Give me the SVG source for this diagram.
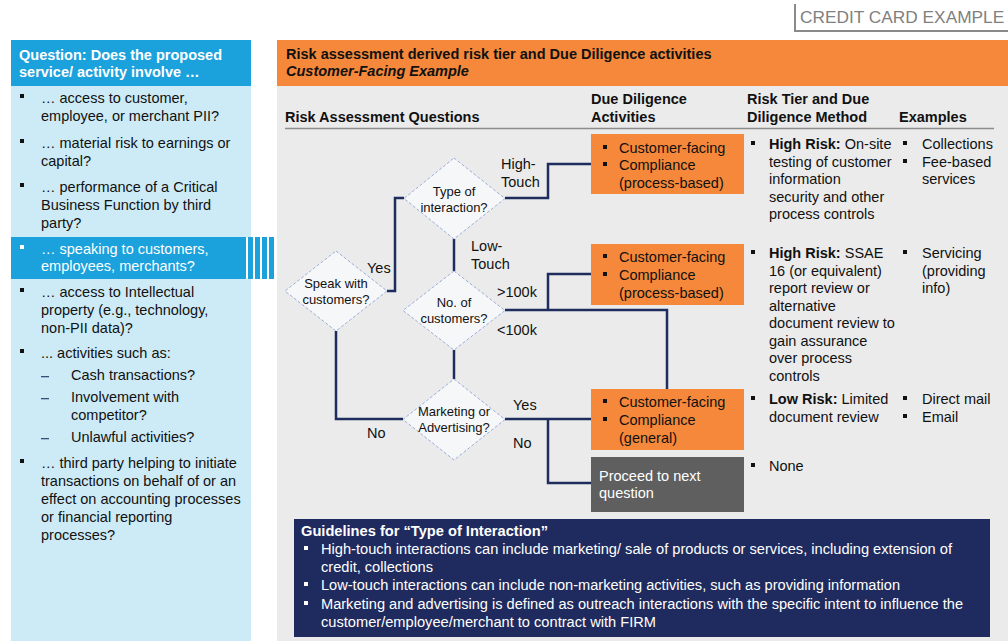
<svg xmlns="http://www.w3.org/2000/svg" width="1008" height="641" viewBox="0 0 1008 641">
<style>
text{font-family:"Liberation Sans",Arial,sans-serif;font-size:14.5px;fill:#111}
.lp{font-size:14.5px}
.b{font-weight:bold}
.w{fill:#fff}
.dia{fill:#f6f7f9;stroke:#9aaedc;stroke-width:1;stroke-dasharray:3 2}
.dt{font-size:13px;text-anchor:middle}
.con{fill:none;stroke:#1f2d5e;stroke-width:2.5}
.org{fill:#f5883a}
.g{font-size:14px;fill:#fff}
</style>
<defs>
<rect id="sq" width="4" height="4" fill="#111"/>
<rect id="sqw" width="4" height="4" fill="#fff"/>
</defs>
<rect width="1008" height="641" fill="#fff"/>
<!-- credit card example -->
<g id="tag">
<path d="M795 4V31H1008" fill="none" stroke="#8a8a8a" stroke-width="2"/>
<text x="800" y="23" style="font-size:17.3px;fill:#808080">CREDIT CARD EXAMPLE</text>
</g>
<!-- left panel -->
<g id="left-panel">
<rect x="11" y="40" width="240" height="601" fill="#cdebf7"/>
<rect x="11" y="40" width="240" height="46" fill="#1ba1dc"/>
<text x="19" y="60" class="lp b w">Question: Does the proposed</text>
<text x="19" y="77" class="lp b w">service/ activity involve …</text>
<rect x="11" y="237" width="235" height="42" fill="#1ba1dc"/>
<rect x="246" y="237" width="2" height="42" fill="#fff"/>
<rect x="248" y="237" width="5" height="42" fill="#1ba1dc"/>
<rect x="253" y="237" width="24" height="42" fill="#fff"/>
<rect x="255" y="237" width="5" height="42" fill="#1ba1dc"/>
<rect x="262" y="237" width="5" height="42" fill="#1ba1dc"/>
<rect x="269" y="237" width="5" height="42" fill="#1ba1dc"/>
<use href="#sq" x="20" y="94"/>
<text x="41" y="103" class="lp">… access to customer,</text>
<text x="41" y="121" class="lp">employee, or merchant PII?</text>
<use href="#sq" x="20" y="139"/>
<text x="41" y="148" class="lp">… material risk to earnings or</text>
<text x="41" y="166" class="lp">capital?</text>
<use href="#sq" x="20" y="183"/>
<text x="41" y="192" class="lp">… performance of a Critical</text>
<text x="41" y="210" class="lp">Business Function by third</text>
<text x="41" y="228" class="lp">party?</text>
<use href="#sqw" x="20" y="245"/>
<text x="41" y="254" class="lp w">… speaking to customers,</text>
<text x="41" y="271" class="lp w">employees, merchants?</text>
<use href="#sq" x="20" y="288"/>
<text x="41" y="297" class="lp">… access to Intellectual</text>
<text x="41" y="315" class="lp">property (e.g., technology,</text>
<text x="41" y="333" class="lp">non-PII data)?</text>
<use href="#sq" x="20" y="349"/>
<text x="41" y="358" class="lp">... activities such as:</text>
<rect x="41" y="376" width="8" height="1.3" fill="#3b4a7a"/>
<text x="71" y="380" class="lp">Cash transactions?</text>
<rect x="41" y="398" width="8" height="1.3" fill="#3b4a7a"/>
<text x="71" y="402" class="lp">Involvement with</text>
<text x="71" y="420" class="lp">competitor?</text>
<rect x="41" y="438" width="8" height="1.3" fill="#3b4a7a"/>
<text x="71" y="442" class="lp">Unlawful activities?</text>
<use href="#sq" x="20" y="459"/>
<text x="41" y="468" class="lp">… third party helping to initiate</text>
<text x="41" y="486" class="lp">transactions on behalf of or an</text>
<text x="41" y="504" class="lp">effect on accounting processes</text>
<text x="41" y="522" class="lp">or financial reporting</text>
<text x="41" y="540" class="lp">processes?</text>
</g>
<!-- main panel -->
<g id="main-panel">
<rect x="277" y="40" width="731" height="601" fill="#ebebeb"/>
<rect x="277" y="40" width="731" height="46" class="org"/>
<text x="286" y="59" class="b">Risk assessment derived risk tier and Due Diligence activities</text>
<text x="286" y="76" class="b" font-style="italic">Customer-Facing Example</text>
<text x="285" y="122" class="b">Risk Assessment Questions</text>
<text x="591" y="104" class="b">Due Diligence</text>
<text x="591" y="122" class="b">Activities</text>
<text x="747" y="104" class="b">Risk Tier and Due</text>
<text x="747" y="122" class="b">Diligence Method</text>
<text x="899" y="122" class="b">Examples</text>
<line x1="285" y1="128.5" x2="994" y2="128.5" stroke="#8c8c8c" stroke-width="1.3"/>
</g>
<!-- connectors -->
<g id="connectors">
<path class="con" d="M387 291H395V198H404"/>
<path class="con" d="M505 198H548V164H591"/>
<path class="con" d="M454 239V271"/>
<path class="con" d="M505 310H667V389"/>
<path class="con" d="M548 310V274H591"/>
<path class="con" d="M454 350V379"/>
<path class="con" d="M336 331V419H403"/>
<path class="con" d="M505 419H591"/>
<path class="con" d="M548 419V483H591"/>
</g>
<!-- connector labels -->
<g id="labels">
<text x="501" y="169">High-</text>
<text x="501" y="187">Touch</text>
<text x="471" y="251">Low-</text>
<text x="471" y="269">Touch</text>
<text x="367" y="273">Yes</text>
<text x="497" y="297">&gt;100k</text>
<text x="497" y="335">&lt;100k</text>
<text x="513" y="410">Yes</text>
<text x="513" y="448">No</text>
<text x="367" y="438">No</text>
</g>
<!-- diamonds -->
<g id="q-type">
<path class="dia" d="M454 158L505 198.5L454 239L404 198.5Z"/>
<text x="454" y="196" class="dt">Type of</text>
<text x="454" y="212" class="dt">interaction?</text>
</g>
<g id="q-speak">
<path class="dia" d="M336 251L387 291L336 331L285 291Z"/>
<text x="336" y="288" class="dt">Speak with</text>
<text x="336" y="304" class="dt">customers?</text>
</g>
<g id="q-number">
<path class="dia" d="M454 271L505 310.5L454 350L403 310.5Z"/>
<text x="454" y="307" class="dt">No. of</text>
<text x="454" y="323" class="dt">customers?</text>
</g>
<g id="q-marketing">
<path class="dia" d="M454 379L505 419.5L454 460L403 419.5Z"/>
<text x="454" y="416" class="dt">Marketing or</text>
<text x="454" y="432" class="dt">Advertising?</text>
</g>
<!-- due diligence boxes -->
<g id="dd-1">
<rect x="591" y="134" width="153" height="60" class="org"/>
<use href="#sq" x="603" y="145"/>
<text x="619" y="153">Customer-facing</text>
<use href="#sq" x="603" y="162"/>
<text x="619" y="170">Compliance</text>
<text x="619" y="188">(process-based)</text>
</g>
<g id="dd-2">
<rect x="591" y="244" width="153" height="61" class="org"/>
<use href="#sq" x="603" y="254"/>
<text x="619" y="262">Customer-facing</text>
<use href="#sq" x="603" y="272"/>
<text x="619" y="280">Compliance</text>
<text x="619" y="298">(process-based)</text>
</g>
<g id="dd-3">
<rect x="591" y="389" width="153" height="61" class="org"/>
<use href="#sq" x="603" y="399"/>
<text x="619" y="407">Customer-facing</text>
<use href="#sq" x="603" y="417"/>
<text x="619" y="425">Compliance</text>
<text x="619" y="443">(general)</text>
</g>
<g id="dd-next">
<rect x="591" y="457" width="153" height="55" fill="#5f5f5f"/>
<text x="599" y="481" class="w">Proceed to next</text>
<text x="599" y="498" class="w">question</text>
</g>
<!-- risk tier column -->
<g id="tier-1">
<use href="#sq" x="751" y="141"/>
<text x="769" y="149"><tspan class="b">High Risk:</tspan> On-site</text>
<text x="769" y="167">testing of customer</text>
<text x="769" y="184">information</text>
<text x="769" y="202">security and other</text>
<text x="769" y="219">process controls</text>
</g>
<g id="tier-2">
<use href="#sq" x="751" y="250"/>
<text x="769" y="258"><tspan class="b">High Risk:</tspan> SSAE</text>
<text x="769" y="276">16 (or equivalent)</text>
<text x="769" y="293">report review or</text>
<text x="769" y="311">alternative</text>
<text x="769" y="328">document review to</text>
<text x="769" y="346">gain assurance</text>
<text x="769" y="363">over process</text>
<text x="769" y="381">controls</text>
</g>
<g id="tier-3">
<use href="#sq" x="751" y="396"/>
<text x="769" y="404"><tspan class="b">Low Risk:</tspan> Limited</text>
<text x="769" y="422">document review</text>
</g>
<g id="tier-4">
<use href="#sq" x="751" y="463"/>
<text x="769" y="471">None</text>
</g>
<!-- examples column -->
<g id="ex-1">
<use href="#sq" x="903" y="141"/>
<text x="922" y="149">Collections</text>
<use href="#sq" x="903" y="159"/>
<text x="922" y="167">Fee-based</text>
<text x="922" y="184">services</text>
</g>
<g id="ex-2">
<use href="#sq" x="903" y="250"/>
<text x="922" y="258">Servicing</text>
<text x="922" y="276">(providing</text>
<text x="922" y="293">info)</text>
</g>
<g id="ex-3">
<use href="#sq" x="903" y="396"/>
<text x="922" y="404">Direct mail</text>
<use href="#sq" x="903" y="414"/>
<text x="922" y="422">Email</text>
</g>
<!-- guidelines -->
<g id="guidelines">
<rect x="294" y="519" width="696" height="118" fill="#1f2b5e"/>
<text x="301" y="536" class="g b" textLength="247" lengthAdjust="spacingAndGlyphs">Guidelines for “Type of Interaction”</text>
<use href="#sqw" x="304" y="546"/>
<text x="321" y="554" class="g" textLength="631" lengthAdjust="spacingAndGlyphs">High-touch interactions can include marketing/ sale of products or services, including extension of</text>
<text x="321" y="572" class="g" textLength="112" lengthAdjust="spacingAndGlyphs">credit, collections</text>
<use href="#sqw" x="304" y="582"/>
<text x="321" y="590" class="g" textLength="579" lengthAdjust="spacingAndGlyphs">Low-touch interactions can include non-marketing activities, such as providing information</text>
<use href="#sqw" x="304" y="601"/>
<text x="321" y="609" class="g" textLength="642" lengthAdjust="spacingAndGlyphs">Marketing and advertising is defined as outreach interactions with the specific intent to influence the</text>
<text x="321" y="627" class="g" textLength="335" lengthAdjust="spacingAndGlyphs">customer/employee/merchant to contract with FIRM</text>
</g>
</svg>
